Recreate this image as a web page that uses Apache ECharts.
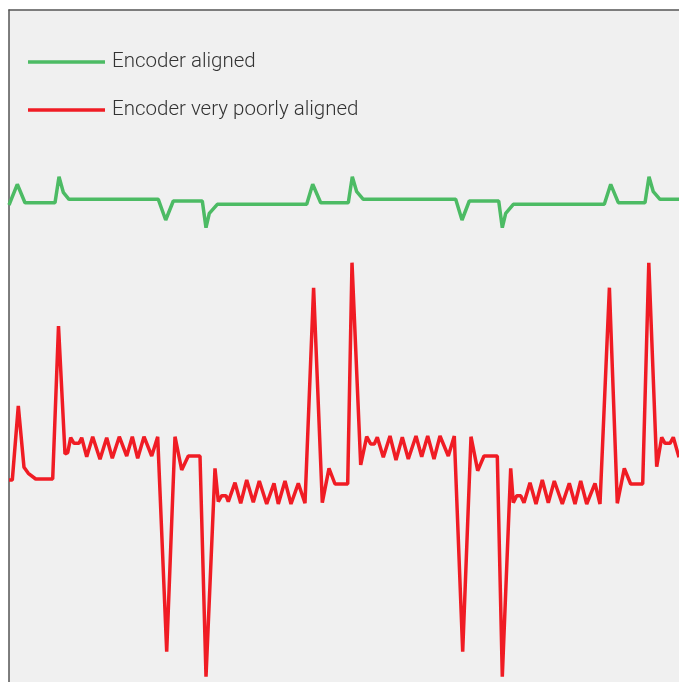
<!DOCTYPE html>
<html>
<head>
<meta charset="utf-8">
<script src="https://cdn.jsdelivr.net/npm/echarts@6/dist/echarts.min.js"></script>
<style>
html,body{margin:0;padding:0;background:#fff;}
#chart{width:679px;height:682px;}
</style>
</head>
<body>
<div id="chart"></div>
<script>
const seriesNames = ['Encoder aligned', 'Encoder very poorly aligned'];

const greenT = [0, 8.3, 16, 46, 50, 54.3, 60, 149.3, 156.7, 164.3, 193.3, 197, 200.3, 208.3, 297.7, 303.7, 311.7, 339.3, 343.3, 347.7, 354.3, 446.7, 453, 460.3, 489.7, 493.3, 496.7, 504.3, 595.3, 601.7, 609.3, 636, 640, 644.3, 651, 670];
const greenV = [477, 497.7, 479.3, 479.3, 505.3, 489.7, 482.7, 482.7, 462, 481, 481, 454.3, 468.7, 477.7, 477.7, 497.7, 479.3, 479.3, 505.3, 490.3, 482.7, 482.7, 462, 481, 481, 454.3, 468.7, 477.7, 477.7, 497.7, 479.3, 479.3, 505.3, 490.3, 482.7, 482.7];

const redT = [0, 3.3, 9.3, 15, 19.3, 26.7, 43.7, 49.5, 56, 58.7, 61.7, 65, 70, 72.7, 77.7, 83.7, 91, 97.7, 103.3, 110.3, 117.7, 123.3, 128.7, 135, 142.7, 148.7, 157.7, 166, 172.7, 179.3, 191, 197, 206, 209.3, 212.7, 217, 219.3, 226, 231.7, 237.7, 244.3, 250.3, 257.7, 265, 269.3, 276, 282, 289.3, 296, 304.6, 313.3, 320, 326, 338.7, 343, 351.7, 357.7, 361.7, 365.3, 368.3, 374.3, 381, 387, 393.3, 399.3, 407, 412.7, 418.7, 425, 431, 439.3, 445.3, 453.7, 462, 468.7, 475, 488.3, 493.3, 501.7, 504.3, 507.7, 511.7, 515, 521, 527, 533.3, 539.3, 545.3, 553.3, 560.3, 566, 571.7, 577.7, 586, 591, 600.4, 608.3, 615.3, 621.7, 633.7, 639.8, 647.7, 652.7, 656, 661, 664.3, 670];
const redV = [202, 202, 276, 214.7, 208.7, 203, 203, 356, 228, 229.3, 244.3, 238.7, 238.7, 244.3, 225.3, 245.3, 222.7, 244.3, 223.7, 245.3, 226, 245.3, 223.7, 245.3, 226, 245.3, 30.3, 245.3, 212, 226, 226, 5.3, 213.7, 180.3, 186.3, 186.3, 180.3, 199.3, 178.7, 202, 179.7, 201, 178, 198.7, 178, 201, 178, 198.7, 178.7, 394.3, 179.3, 213.7, 198, 198, 419.3, 217, 245.3, 238, 238, 244.7, 224.7, 246, 222, 244.7, 223, 246, 225.3, 246, 223, 246, 226, 246, 30.3, 245.3, 211.3, 226, 226, 5.3, 213.7, 179.3, 186.3, 186.3, 179.3, 199.3, 178, 202, 179.3, 201, 178, 198.7, 178, 201, 178, 198.7, 178, 394.3, 178.7, 213.7, 198, 198, 419.3, 215.3, 244.7, 238.7, 238.7, 244.7, 224.7];

const green = greenT.map((t, i) => [t, greenV[i]]);
const red = redT.map((t, i) => [t, redV[i]]);

const chart = echarts.init(document.getElementById('chart'), null, {renderer: 'canvas'});
chart.setOption({
  animation: false,
  backgroundColor: '#ffffff',
  grid: {
    left: 9, top: 10, right: 0, bottom: 0,
    show: true, backgroundColor: '#f0f0f0', borderWidth: 0
  },
  legend: {
    orient: 'vertical',
    left: 28,
    top: 51,
    padding: 0,
    itemGap: 26,
    itemWidth: 77,
    itemHeight: 3.5,
    icon: 'rect',
    data: seriesNames,
    textStyle: {fontSize: 20.5, color: '#333333', fontFamily: 'Roboto', fontWeight: 300, padding: [0, 0, 0, 2], lineHeight: 22}
  },
  xAxis: {
    type: 'value', min: 0, max: 670, position: 'top',
    axisLine: {show: true, onZero: false, lineStyle: {color: '#555555', width: 1.5}},
    axisTick: {show: false}, axisLabel: {show: false}, splitLine: {show: false}
  },
  yAxis: {
    type: 'value', min: 0, max: 672,
    axisLine: {show: true, onZero: false, lineStyle: {color: '#555555', width: 1.5}},
    axisTick: {show: false}, axisLabel: {show: false}, splitLine: {show: false}
  },
  series: [
    {name: seriesNames[0], type: 'line', data: green, showSymbol: false, symbol: 'none',
     color: '#4cbb64', lineStyle: {color: '#4cbb64', width: 3.5}},
    {name: seriesNames[1], type: 'line', data: red, showSymbol: false, symbol: 'none',
     color: '#f01c24', lineStyle: {color: '#f01c24', width: 3.5}}
  ]
});
</script>
</body>
</html>
